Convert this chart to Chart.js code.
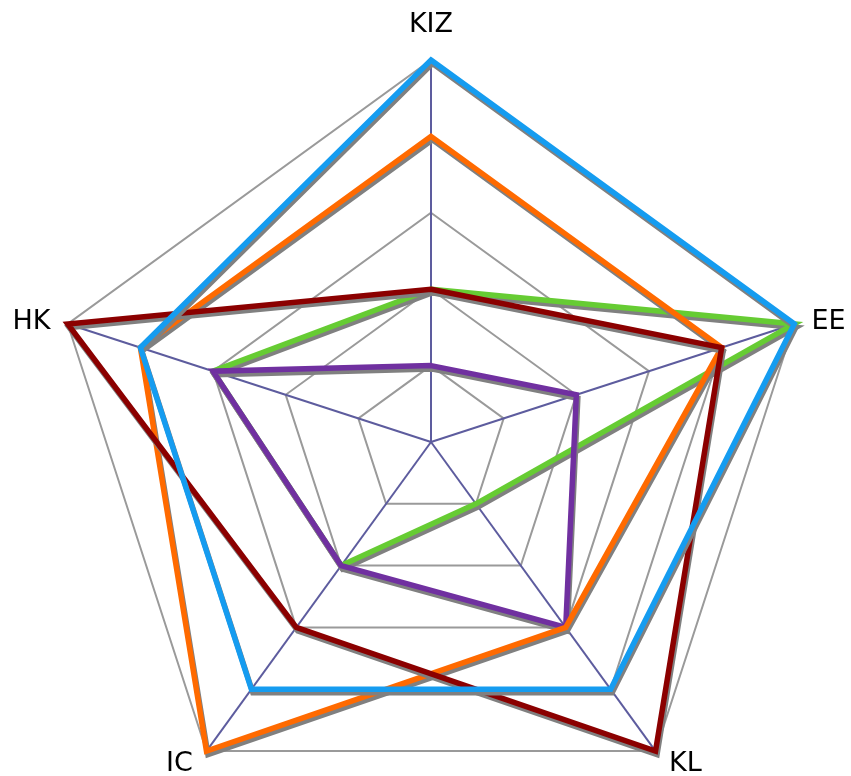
<!DOCTYPE html>
<html>
<head>
<meta charset="utf-8">
<script src="https://cdn.jsdelivr.net/npm/chart.js@4.4.1/dist/chart.umd.min.js"></script>
<style>
  html, body { margin: 0; padding: 0; background: #ffffff; }
  #wrap { width: 851px; height: 776px; }
</style>
</head>
<body>
<div id="wrap"><canvas id="radar" width="851" height="776"></canvas></div>
<script>
// Axes of the radar, clockwise from the top
const axes = ['KIZ', 'EE', 'KL', 'IC', 'HK'];

// Scores per axis for each profile (scale 0–5)
const blueValues    = [5, 5, 4, 4, 4];
const darkRedValues = [2, 4, 5, 3, 5];
const orangeValues  = [4, 4, 3, 5, 4];
const purpleValues  = [1, 2, 3, 2, 3];
const greenValues   = [2, 5, 1, 2, 3];

const scaleMin = 0;
const scaleMax = 5;
const scaleStep = 1;

// Grey drop shadow under every series line
const lineShadow = {
  id: 'lineShadow',
  beforeDatasetDraw(chart) {
    const ctx = chart.ctx;
    ctx.save();
    ctx.shadowColor = 'rgba(128,128,128,1)';
    ctx.shadowOffsetX = 1.5;
    ctx.shadowOffsetY = 3.5;
    ctx.shadowBlur = 0;
  },
  afterDatasetDraw(chart) {
    chart.ctx.restore();
  }
};

// Axis names placed just outside the outer ring
const axisLabels = {
  id: 'axisLabels',
  afterDatasetsDraw(chart) {
    const s = chart.scales.r;
    const ctx = chart.ctx;
    ctx.save();
    ctx.font = '27px "DejaVu Sans", Verdana, sans-serif';
    ctx.fillStyle = '#000000';
    ctx.textBaseline = 'alphabetic';
    axes.forEach((name, i) => {
      const a = s.getIndexAngle(i);
      const sn = Math.sin(a), cs = Math.cos(a);
      const p = s.getPointPosition(i, s.drawingArea + 18);
      let x = p.x, y;
      if (cs > 0.9) {
        ctx.textAlign = 'center';
        y = p.y - 10;
      } else if (cs < -0.5) {
        ctx.textAlign = sn > 0 ? 'left' : 'right';
        x += sn > 0 ? 3 : -3;
        y = p.y + 5;
      } else {
        ctx.textAlign = sn > 0 ? 'left' : 'right';
        y = p.y + 11;
      }
      ctx.fillText(name, x, y);
    });
    ctx.restore();
  }
};

const mkSet = (data, color) => ({
  data,
  borderColor: color,
  backgroundColor: 'transparent',
  borderWidth: 5.5,
  fill: false,
  pointRadius: 0,
  pointHoverRadius: 0,
  tension: 0,
  borderJoinStyle: 'miter'
});

new Chart(document.getElementById('radar'), {
  type: 'radar',
  data: {
    labels: axes,
    // first dataset is painted on top
    datasets: [
      mkSet(blueValues, '#159cf0'),
      mkSet(darkRedValues, '#8b0000'),
      mkSet(orangeValues, '#ff6a00'),
      mkSet(purpleValues, '#7030a0'),
      mkSet(greenValues, '#66cc33')
    ]
  },
  options: {
    responsive: false,
    animation: false,
    devicePixelRatio: 1,
    layout: { padding: 0 },
    plugins: { legend: { display: false }, tooltip: { enabled: false } },
    scales: {
      r: {
        min: scaleMin,
        max: scaleMax,
        ticks: { display: false, stepSize: scaleStep },
        grid: { color: '#9a9a9a', lineWidth: 2, circular: false },
        angleLines: { color: '#5d5c9e', lineWidth: 2 },
        pointLabels: { display: false },
        afterSetDimensions(scale) {
          scale.xCenter = 431;
          scale.yCenter = 442;
          scale.drawingArea = 382;
        }
      }
    }
  },
  plugins: [lineShadow, axisLabels]
});
</script>
</body>
</html>
